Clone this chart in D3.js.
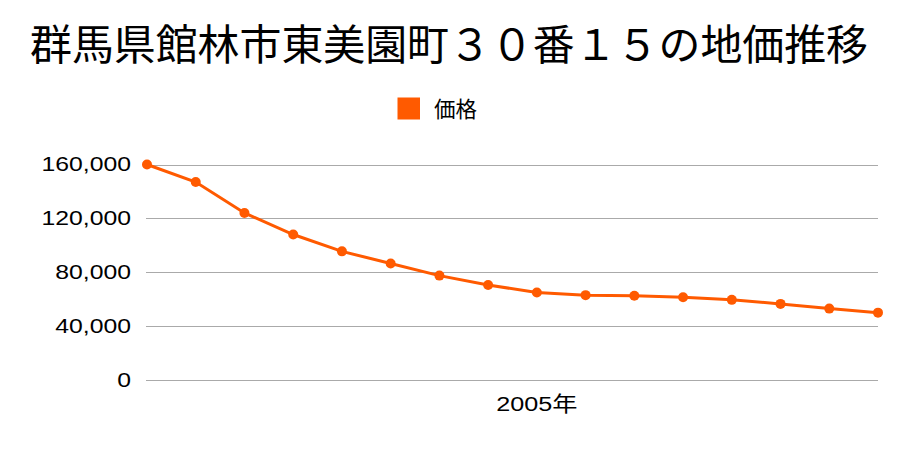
<!DOCTYPE html>
<html><head><meta charset="utf-8">
<script src="https://cdn.jsdelivr.net/npm/d3@7"></script>
<style>body{margin:0;background:#fff}svg{display:block}</style>
</head><body><svg id="c" width="900" height="450"></svg>
<script>
const years = ["1997","1998","1999","2000","2001","2002","2003","2004","2005","2006","2007","2008","2009","2010","2011","2012"];
const prices = [160000,147000,124000,108000,95500,86500,77500,70500,65000,63000,62500,61500,59500,56500,53000,50000];
const yTicks = [0,40000,80000,120000,160000];
const xLabels = {"2005":"2005年"};
const title = "群馬県館林市東美園町３０番１５の地価推移";
const seriesName = "価格";
const color = "#ff5a00";

const svg = d3.select("#c");
const x = d3.scalePoint().domain(years).range([147,878]);
const y = d3.scaleLinear().domain([0,160000]).range([380,164.5]);

svg.append("text").attr("x",449).attr("y",60).attr("text-anchor","middle")
  .attr("font-family","'Noto Sans CJK JP'").attr("font-size",42).attr("textLength",838).attr("lengthAdjust","spacingAndGlyphs")
  .attr("fill","#000").text(title);

svg.append("rect").attr("x",397.5).attr("y",97.5).attr("width",22.5).attr("height",22).attr("fill",color);
svg.append("text").attr("x",434).attr("y",116.5).attr("font-family","'Noto Sans CJK JP'").attr("font-size",21.5).attr("fill","#000").text(seriesName);

const g = svg.append("g");
g.selectAll("line.grid").data(yTicks).join("line").attr("class","grid")
  .attr("x1",146).attr("x2",878).attr("y1",d=>Math.round(y(d))+0.5).attr("y2",d=>Math.round(y(d))+0.5)
  .attr("stroke","#aaa").attr("stroke-width",1);
g.selectAll("text.yt").data(yTicks).join("text").attr("class","yt")
  .attr("transform",d=>`translate(131,${y(d)+6.5}) scale(1.18,1)`).attr("text-anchor","end")
  .attr("font-family","'Liberation Sans',Arial").attr("font-size",21).attr("fill","#000")
  .text(d=>d3.format(",")(d));
g.selectAll("text.xt").data(years.filter(d=>xLabels[d])).join("text").attr("class","xt")
  .attr("transform",d=>`translate(${x(d)},410.5) scale(1.2,1)`).attr("text-anchor","middle")
  .attr("font-family","'Liberation Sans','Noto Sans CJK JP'").attr("font-size",21).attr("fill","#000")
  .text(d=>xLabels[d]);

const line = d3.line().x((d,i)=>x(years[i])).y(d=>y(d));
g.append("path").datum(prices).attr("d",line).attr("fill","none").attr("stroke",color).attr("stroke-width",3);
g.selectAll("circle").data(prices).join("circle")
  .attr("cx",(d,i)=>x(years[i])).attr("cy",d=>y(d)).attr("r",5).attr("fill",color);
</script></body></html>
